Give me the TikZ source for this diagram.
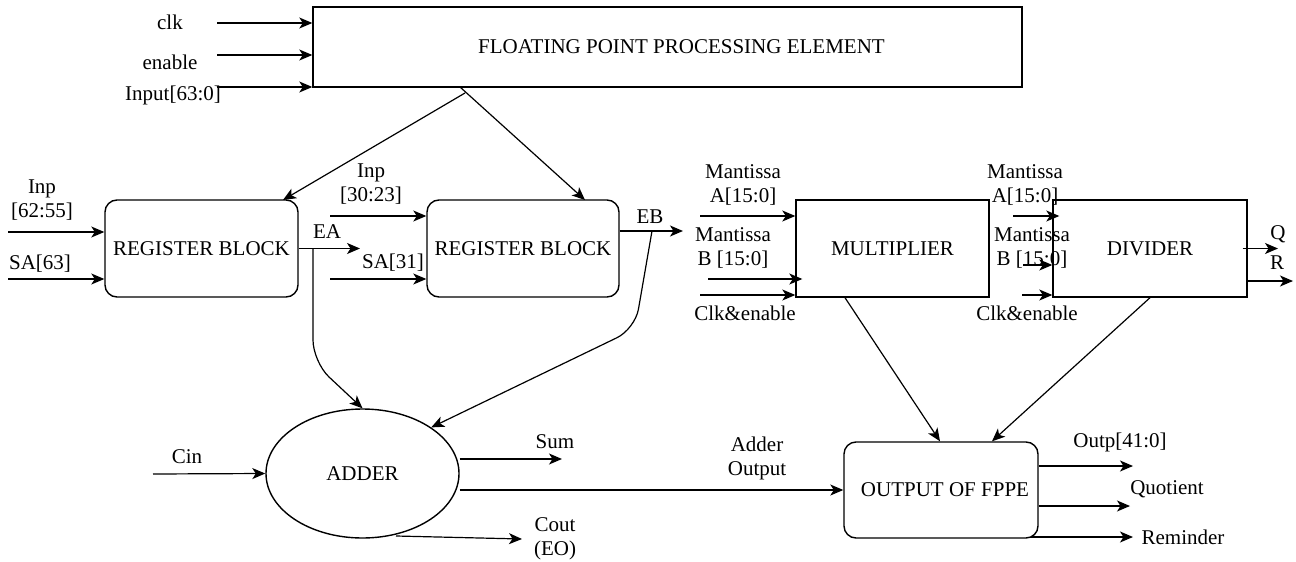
\documentclass[tikz,border=0pt]{standalone}
\usepackage{fontspec}
\setmainfont{Liberation Serif}
\usetikzlibrary{arrows.meta,shapes.geometric}
\begin{document}
\begin{tikzpicture}[x=1pt,y=-1pt,
  every node/.style={font=\fontsize{21}{24}\selectfont, inner sep=0pt},
  box/.style={draw, line width=1.4pt, minimum width=#1, minimum height=97pt},
  rbox/.style={box=#1, rounded corners=12pt},
  arr/.style={line width=1.2pt, -{Stealth[length=13pt,width=11pt,inset=3.5pt]}},
  lbl/.style={align=center}]
\useasboundingbox (0,0) rectangle (1296,562);

% blocks
\node[box=709pt, minimum height=80pt,
      label={[xshift=14pt]center:FLOATING POINT PROCESSING ELEMENT}] (fppe) at (667.5,47) {};
\node[rbox=193pt] (reg1) at (201.5,248.5) {REGISTER BLOCK};
\node[rbox=192pt] (reg2) at (523,248.5) {REGISTER BLOCK};
\node[box=193pt] (mult) at (892.5,248.5) {MULTIPLIER};
\node[box=194pt] (div) at (1150,248.5) {DIVIDER};
\node[draw, ellipse, line width=1.4pt, minimum width=193pt, minimum height=129pt] (adder) at (362.5,473.5) {ADDER};
\node[rbox=194pt, minimum height=96pt] (out) at (941,490) {\hspace{8pt}OUTPUT OF FPPE};

% FPPE inputs
\coordinate (clkS) at (217,23);
\coordinate (enS) at (217,55);
\coordinate (inS) at (217,87);
\draw[arr] (clkS) -- (clkS -| fppe.west);
\draw[arr] (enS) -- (enS -| fppe.west);
\draw[arr] (inS) -- (inS -| fppe.west);
\node (clkL) at (170,22) {clk};
\node (enL) at (170,62) {enable};
\node (inL) at (173,95) {Input[63:0]};

% FPPE to register blocks
\coordinate (fb) at (460,87);
\coordinate (fj) at (465,93);
\coordinate (r1t) at (283,200);
\coordinate (r2t) at (585,200);
\draw[arr] (fb) -- (r2t);
\draw[arr] (fj) -- (r1t);

% register block 1
\coordinate (i1) at (8,232);
\coordinate (i2) at (8,279);
\draw[arr] (i1) -- (i1 -| reg1.west);
\draw[arr] (i2) -- (i2 -| reg1.west);
\node[lbl] (i1L) at (42,200) {Inp\\{[62:55]}};
\node (i2L) at (40,264) {SA[63]};
\coordinate (eaE) at (360,248.5);
\coordinate (eaJ) at (313,248.5);
\draw[arr] (reg1.east) -- (eaE);
\node (eaL) at (327,232) {EA};
\draw[arr, rounded corners=22pt] (eaJ) -- (313,362) -- (adder.north);

% register block 2
\coordinate (i3) at (330,216);
\coordinate (i4) at (330,279);
\draw[arr] (i3) -- (i3 -| reg2.west);
\draw[arr] (i4) -- (i4 -| reg2.west);
\node[lbl] (i3L) at (371,184) {Inp\\{[30:23]}};
\node (i4L) at (393,263) {SA[31]};
\coordinate (ebE) at (683,231);
\coordinate (ebJ) at (652,231);
\draw[arr] (ebE -| reg2.east) -- (ebE);
\node (ebL) at (650,217) {EB};
\draw[arr, rounded corners=20pt] (ebJ) -- (635,329) -- (adder.north east);

% multiplier
\coordinate (m1) at (700,216);
\coordinate (m2) at (708,279);
\coordinate (m3) at (700,295);
\draw[arr] (m1) -- (m1 -| mult.west);
\draw[arr] (m2) -- ([xshift=7pt]m2 -| mult.west);
\draw[arr] (m3) -- (m3 -| mult.west);
\node[lbl] (m1L) at (743,185) {Mantissa\\A[15:0]};
\node[lbl] (m2L) at (733,248) {Mantissa\\B [15:0]};
\node (m3L) at (745,313) {Clk\&enable};

% divider
\coordinate (d1) at (1013,216);
\coordinate (d2) at (1023,265);
\coordinate (d3) at (1022,295);
\draw[arr] (d1) -- ([xshift=7pt]d1 -| div.west);
\draw[arr] (d2) -- (d2 -| div.west);
\draw[arr] (d3) -- (d3 -| div.west);
\node[lbl] (d1L) at (1025,185) {Mantissa\\A[15:0]};
\node[lbl] (d2L) at (1032,248) {Mantissa\\B [15:0]};
\node (d3L) at (1027,313) {Clk\&enable};
\coordinate (qE) at (1278,248.5);
\coordinate (rE) at (1293,281);
\draw[arr] ([xshift=-5pt]div.east) -- (qE);
\draw[arr] (rE -| div.east) -- (rE);
\node (qL) at (1278,234) {Q};
\node (rL) at (1277,263) {R};

% to output block
\draw[arr] ([xshift=-47.5pt]mult.south) -- ([xshift=-1pt]out.north);
\draw[arr] (div.south) -- ([xshift=51pt]out.north);

% adder
\coordinate (cin) at (153,474);
\draw[arr] (cin) -- (adder.west);
\node (cinL) at (187,457) {Cin};
\coordinate (sumE) at (562,459);
\draw[arr] (sumE -| adder.east) -- (sumE);
\node (sumL) at (555,442) {Sum};
\draw[arr] (out.west -| adder.east) -- (out.west);
\node[lbl] (aoL) at (757,458) {Adder\\Output};
\coordinate (coS) at (396,536);
\coordinate (coE) at (522,539);
\draw[arr] (coS) -- (coE);
\node[lbl] (coL) at (555,539) {Cout\\(EO)};

% output block
\coordinate (o1) at (1133,466);
\coordinate (o2) at (1130,506);
\coordinate (o3) at (1133,537);
\draw[arr] (o1 -| out.east) -- (o1);
\draw[arr] (o2 -| out.east) -- (o2);
\draw[arr] ([xshift=-8pt]o3 -| out.east) -- (o3);
\node (o1L) at (1120,442) {Outp[41:0]};
\node (o2L) at (1167,489) {Quotient};
\node (o3L) at (1183,537) {Reminder};
\end{tikzpicture}
\end{document}
